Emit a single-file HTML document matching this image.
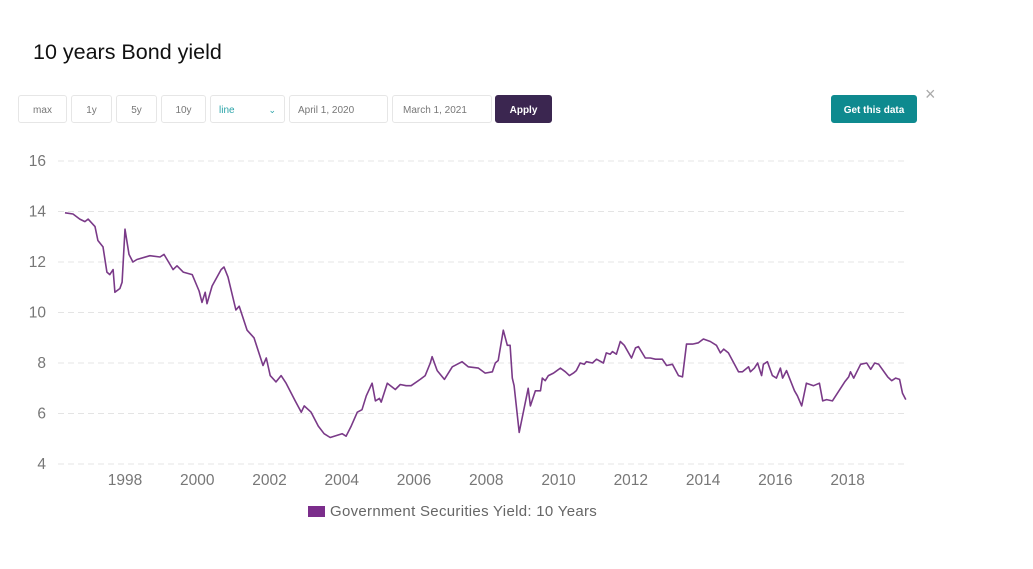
<!DOCTYPE html>
<html><head><meta charset="utf-8"><style>
body{margin:0;width:1033px;height:569px;background:#fff;font-family:"Liberation Sans",sans-serif;position:relative;overflow:hidden}
.b{position:absolute;top:95px;height:28px;border:1px solid #e6e6e6;border-radius:3px;box-sizing:border-box;font-size:10px;color:#777;display:flex;align-items:center;justify-content:center;background:#fff;padding-top:3px}
</style></head><body>
<div style="position:absolute;left:33px;top:40px;font-size:21.5px;color:#111">10 years Bond yield</div>
<div class="b" style="left:18px;width:49px">max</div>
<div class="b" style="left:71px;width:41px">1y</div>
<div class="b" style="left:116px;width:41px">5y</div>
<div class="b" style="left:161px;width:45px">10y</div>
<div class="b" style="left:210px;width:75px;justify-content:space-between;padding:3px 8px 0;color:#2aa3a8">line<span style="font-size:9px">&#8964;</span></div>
<div class="b" style="left:289px;width:99px;justify-content:flex-start;padding-left:8px">April 1, 2020</div>
<div class="b" style="left:392px;width:100px;justify-content:flex-start;padding-left:10px">March 1, 2021</div>
<div class="b" style="left:495px;width:57px;background:#3b2650;border-color:#3b2650;color:#fff;font-weight:bold">Apply</div>
<div class="b" style="left:831px;width:86px;background:#0e8a8f;border-color:#0e8a8f;color:#fff;font-weight:bold">Get this data</div>
<div style="position:absolute;left:925px;top:84px;font-size:18px;color:#aaa">&#215;</div>
<svg id="c" width="1033" height="569" style="position:absolute;left:0;top:0"></svg>
<div style="position:absolute;left:308px;top:503px;display:flex;align-items:center;font-size:15px;letter-spacing:0.3px;color:#666">
<span style="display:inline-block;width:17px;height:11px;background:#7b2d8b;margin-right:5px"></span>Government Securities Yield: 10 Years</div>
<script>
const yTicks=[4,6,8,10,12,14,16];
const xTicks=[1998,2000,2002,2004,2006,2008,2010,2012,2014,2016,2018];
const dates=[1996.34,1996.56,1996.75,1996.89,1996.98,1997.17,1997.25,1997.39,1997.50,1997.58,1997.67,1997.72,1997.86,1997.92,1998.00,1998.11,1998.22,1998.33,1998.69,1998.97,1999.08,1999.33,1999.44,1999.61,1999.86,2000.05,2000.13,2000.22,2000.27,2000.41,2000.66,2000.74,2000.85,2001.07,2001.16,2001.38,2001.57,2001.82,2001.91,2002.02,2002.18,2002.32,2002.46,2002.71,2002.88,2002.96,2003.15,2003.35,2003.51,2003.68,2004.01,2004.12,2004.26,2004.43,2004.56,2004.68,2004.84,2004.93,2005.04,2005.09,2005.26,2005.48,2005.62,2005.78,2005.92,2006.17,2006.31,2006.45,2006.50,2006.64,2006.84,2007.06,2007.33,2007.50,2007.78,2007.97,2008.17,2008.25,2008.33,2008.47,2008.58,2008.66,2008.72,2008.77,2008.91,2009.16,2009.22,2009.36,2009.50,2009.55,2009.63,2009.72,2009.86,2009.91,2010.05,2010.19,2010.30,2010.41,2010.49,2010.60,2010.71,2010.77,2010.94,2011.05,2011.24,2011.32,2011.43,2011.49,2011.60,2011.71,2011.82,2012.02,2012.13,2012.21,2012.40,2012.54,2012.68,2012.87,2012.99,2013.15,2013.32,2013.43,2013.54,2013.71,2013.87,2014.01,2014.20,2014.37,2014.48,2014.57,2014.70,2014.98,2015.09,2015.26,2015.31,2015.42,2015.51,2015.62,2015.67,2015.78,2015.92,2016.03,2016.14,2016.20,2016.31,2016.53,2016.61,2016.73,2016.86,2017.06,2017.22,2017.31,2017.42,2017.58,2017.92,2018.03,2018.08,2018.17,2018.36,2018.53,2018.64,2018.75,2018.86,2019.11,2019.22,2019.33,2019.44,2019.52,2019.61];
const yields=[13.95,13.9,13.7,13.6,13.7,13.4,12.85,12.6,11.6,11.5,11.7,10.8,10.95,11.2,13.3,12.3,12.0,12.1,12.25,12.2,12.3,11.7,11.85,11.6,11.5,10.85,10.4,10.8,10.35,11.05,11.7,11.8,11.4,10.1,10.25,9.3,9.0,7.9,8.2,7.5,7.25,7.5,7.2,6.5,6.05,6.3,6.05,5.5,5.2,5.05,5.2,5.1,5.5,6.05,6.15,6.7,7.2,6.5,6.6,6.45,7.2,6.95,7.15,7.1,7.1,7.35,7.5,8.0,8.25,7.7,7.35,7.85,8.05,7.85,7.8,7.6,7.65,8.0,8.1,9.3,8.7,8.7,7.4,7.1,5.25,7.0,6.3,6.9,6.9,7.4,7.3,7.5,7.6,7.65,7.8,7.65,7.5,7.6,7.7,8.0,7.95,8.05,8.0,8.15,8.0,8.4,8.35,8.45,8.35,8.85,8.7,8.2,8.6,8.65,8.2,8.2,8.15,8.15,7.9,7.95,7.5,7.45,8.75,8.75,8.8,8.95,8.85,8.7,8.4,8.55,8.4,7.65,7.65,7.85,7.65,7.8,8.0,7.5,7.95,8.05,7.5,7.4,7.8,7.4,7.7,6.9,6.7,6.3,7.2,7.1,7.2,6.5,6.55,6.5,7.25,7.45,7.65,7.4,7.95,8.0,7.75,8.0,7.95,7.45,7.3,7.4,7.35,6.8,6.55];
const NS='http://www.w3.org/2000/svg';
const svg=document.getElementById('c');
const X=v=>125+(v-1998)*36.13;
const Y=v=>464-(v-4)*25.25;
function mk(t,a){const e=document.createElementNS(NS,t);for(const k in a)e.setAttribute(k,a[k]);svg.appendChild(e);return e;}
yTicks.forEach(t=>{
  const g=mk('line',{x1:58,x2:908,y1:Y(t),y2:Y(t),stroke:'#e4e4e4','stroke-dasharray':'6,4'});
  
  
  const l=mk('text',{x:46,y:Y(t)+5,'text-anchor':'end','font-size':15.5,fill:'#777','font-family':'Liberation Sans, sans-serif'});
  l.textContent=t;
  
  
});
xTicks.forEach(t=>{
  const l=mk('text',{x:X(t),y:485,'text-anchor':'middle','font-size':15.5,fill:'#777','font-family':'Liberation Sans, sans-serif'});
  l.textContent=t;
  
  
});
const p=mk('polyline',{points:dates.map((d,i)=>X(d).toFixed(1)+','+Y(yields[i]).toFixed(1)).join(' '),fill:'none',stroke:'#7a3a88','stroke-width':1.6,'stroke-linejoin':'round'});


</script>
</body></html>
